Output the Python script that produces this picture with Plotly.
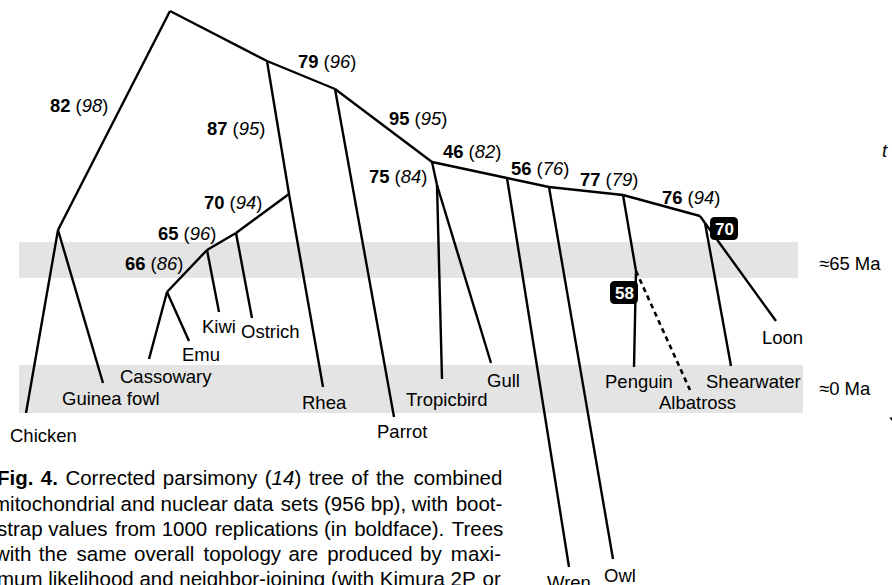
import plotly.graph_objects as go

# ---------------- data ----------------
node_names = ["root", "gall", "Chicken", "Guinea fowl", "A", "ratj", "Rhea", "R1", "Ostrich",
              "R2", "Kiwi", "R3", "Cassowary", "Emu", "B", "Parrot", "C", "D", "Tropicbird",
              "Gull", "E", "Wren", "F", "Owl", "G", "P", "Penguin", "Albatross", "H", "I",
              "Shearwater", "Loon"]
node_x = [170, 58, 26, 103, 267, 289, 323, 236, 252, 207, 219, 167, 149, 189, 335, 394, 432, 437,
          442, 491, 507, 569, 549, 613, 623, 636, 634, 690, 700, 705, 731, 776]
node_y = [11, 230, 413, 383, 61, 194, 387, 233, 318, 250, 312, 292, 359, 341, 89, 417, 162, 185,
          379, 363, 178, 567, 187, 559, 195, 271, 367, 390, 216, 223, 366, 321]

edge_parent = ["root", "gall", "gall", "root", "A", "ratj", "ratj", "R1", "R1", "R2", "R2", "R3",
               "R3", "A", "B", "B", "C", "D", "D", "C", "E", "E", "F", "F", "G", "P", "G", "H",
               "I", "I"]
edge_child = ["gall", "Chicken", "Guinea fowl", "A", "ratj", "Rhea", "R1", "Ostrich", "R2", "Kiwi",
              "R3", "Cassowary", "Emu", "B", "Parrot", "C", "D", "Tropicbird", "Gull", "E", "Wren",
              "F", "Owl", "G", "P", "Penguin", "H", "I", "Shearwater", "Loon"]
dashed_parent = ["P"]
dashed_child = ["Albatross"]

# bootstrap values: (bold value, italic value in parentheses)
bs_bold = [82, 79, 87, 95, 75, 70, 65, 66, 46, 56, 77, 76]
bs_ital = [98, 96, 95, 95, 84, 94, 96, 86, 82, 76, 79, 94]
bs_x = [48, 296, 205, 387, 367, 202, 156, 123, 441, 509, 578, 660]
bs_y = [105, 61, 128, 118, 176, 202, 233, 263, 151, 168, 179, 197]

# boxed values
box_vals = [70, 58]
box_x = [724, 624]
box_y = [228.5, 292.5]

# tip labels
tip_text = ["Chicken", "Guinea fowl", "Cassowary", "Emu", "Kiwi", "Ostrich", "Rhea", "Parrot",
            "Tropicbird", "Gull", "Penguin", "Albatross", "Shearwater", "Loon", "Wren", "Owl"]
tip_lx = [8, 60, 118, 180, 200, 239, 300, 375, 404, 485, 603, 657, 704, 760, 545, 602]
tip_ly = [435, 398, 376, 354, 326, 331, 402, 431, 399, 380, 381, 402, 381, 337, 582, 575]

# time bands
band_labels = ["≈65 Ma", "≈0 Ma"]
band_y0 = [242, 365]
band_y1 = [278, 413]
band_x1 = [798, 803]
band_label_y = [263, 388]

caption_lines = [
    "<b>Fig.</b> <b>4.</b> Corrected parsimony (<i>14</i>) tree of the combined",
    "mitochondrial and nuclear data sets (956 bp), with boot-",
    "strap values from 1000 replications (in boldface). Trees",
    "with the same overall topology are produced by maxi-",
    "mum likelihood and neighbor-joining (with Kimura 2P or",
]
caption_shift = [-5, -9, -5, -8, -5]
caption_base = [484, 510, 535, 560, 585]
caption_pad = [9, 2, 4, 12, 1]   # total hair spaces per line to imitate justified text

# ---------------- figure ----------------
FONT = "Liberation Sans, Arial, Helvetica, sans-serif"
pos = {n: (x, y) for n, x, y in zip(node_names, node_x, node_y)}

def seg_xy(parents, children):
    xs, ys = [], []
    for p, c in zip(parents, children):
        xs += [pos[p][0], pos[c][0], None]
        ys += [pos[p][1], pos[c][1], None]
    return xs, ys

def justify(line, total):
    parts = line.split(" ")
    gaps = len(parts) - 1
    out = parts[0]
    for k in range(gaps):
        n = (total * (k + 1)) // gaps - (total * k) // gaps
        out += " " + "\u200a" * n + parts[k + 1]
    return out

fig = go.Figure()
sx, sy = seg_xy(edge_parent, edge_child)
fig.add_trace(go.Scatter(x=sx, y=sy, mode="lines", line=dict(color="black", width=2.4),
                         hoverinfo="skip", showlegend=False))
dx, dy = seg_xy(dashed_parent, dashed_child)
fig.add_trace(go.Scatter(x=dx, y=dy, mode="lines",
                         line=dict(color="black", width=2.6, dash="5px,4px"),
                         hoverinfo="skip", showlegend=False))
# clipped arrow tip at right edge
fig.add_trace(go.Scatter(x=[895], y=[420], mode="markers",
                         marker=dict(symbol="triangle-down", size=10, color="black"),
                         hoverinfo="skip", showlegend=False))

shapes = []
for y0, y1, x1 in zip(band_y0, band_y1, band_x1):
    shapes.append(dict(type="rect", xref="x", yref="y", x0=19, x1=x1, y0=y0, y1=y1,
                       fillcolor="#e4e4e4", line=dict(width=0), layer="below"))

def rounded(cx, cy, w, h, r):
    x0, x1, y0, y1 = cx - w / 2, cx + w / 2, cy - h / 2, cy + h / 2
    return (f"M{x0+r},{y0} L{x1-r},{y0} Q{x1},{y0} {x1},{y0+r} L{x1},{y1-r} Q{x1},{y1} {x1-r},{y1} "
            f"L{x0+r},{y1} Q{x0},{y1} {x0},{y1-r} L{x0},{y0+r} Q{x0},{y0} {x0+r},{y0} Z")

annotations = []
for v, cx, cy in zip(box_vals, box_x, box_y):
    shapes.append(dict(type="path", xref="x", yref="y", path=rounded(cx, cy, 28, 23, 5),
                       fillcolor="black", line=dict(color="black", width=0)))
    annotations.append(dict(x=cx, y=cy + 0.5, xref="x", yref="y", text=f"<b>{v}</b>",
                            showarrow=False, font=dict(family=FONT, size=17, color="white"),
                            xanchor="center", yanchor="middle"))

for b, i, x, y in zip(bs_bold, bs_ital, bs_x, bs_y):
    annotations.append(dict(x=x, y=y, xref="x", yref="y", text=f"<b>{b}</b> (<i>{i}</i>)",
                            showarrow=False, font=dict(family=FONT, size=18.4, color="black"),
                            xanchor="left", yanchor="middle"))

for t, x, y in zip(tip_text, tip_lx, tip_ly):
    annotations.append(dict(x=x, y=y, xref="x", yref="y", text=t, showarrow=False,
                            font=dict(family=FONT, size=18.5, color="black"),
                            xanchor="left", yanchor="middle"))

for t, y in zip(band_labels, band_label_y):
    annotations.append(dict(x=817, y=y, xref="x", yref="y", text=t, showarrow=False,
                            font=dict(family=FONT, size=18.5, color="black"),
                            xanchor="left", yanchor="middle"))

annotations.append(dict(x=880, y=150, xref="x", yref="y", text="<i>t</i>", showarrow=False,
                        font=dict(family=FONT, size=18.5, color="black"),
                        xanchor="left", yanchor="middle"))

for line, sh, base, pad in zip(caption_lines, caption_shift, caption_base, caption_pad):
    annotations.append(dict(x=0, y=base - 7, xref="x", yref="y", xshift=sh,
                            text=justify(line, pad),
                            showarrow=False, font=dict(family=FONT, size=20.5, color="black"),
                            xanchor="left", yanchor="middle"))

fig.update_layout(
    width=892, height=585,
    margin=dict(l=0, r=0, t=0, b=0),
    paper_bgcolor="white", plot_bgcolor="white",
    xaxis=dict(range=[0, 892], visible=False, fixedrange=True),
    yaxis=dict(range=[585, 0], visible=False, fixedrange=True),
    shapes=shapes, annotations=annotations, showlegend=False,
)
fig.write_html("out.html", config={"displayModeBar": False},
               post_script="document.body.style.margin='0px';document.body.style.overflow='hidden';")
